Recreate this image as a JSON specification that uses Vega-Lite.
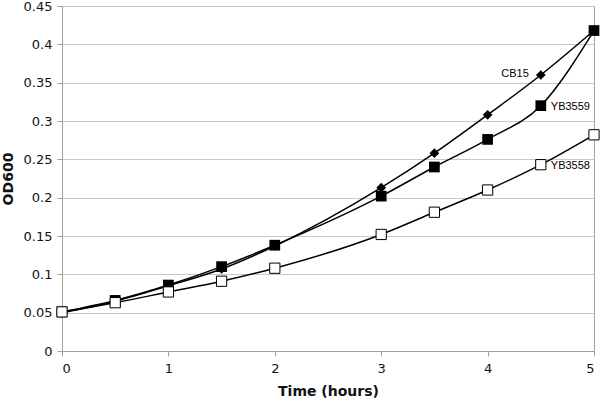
{
  "$schema": "https://vega.github.io/schema/vega-lite/v6.json",
  "width": 532,
  "height": 345,
  "autosize": "none",
  "padding": {"left": 62, "top": 6, "right": 6, "bottom": 50},
  "background": "white",
  "config": {
    "view": {"stroke": "#a0a0a0", "strokeWidth": 1},
    "axis": {"labelFont": "DejaVu Sans", "titleFont": "DejaVu Sans", "labelColor": "#111", "titleColor": "#111", "labelFontSize": 13, "titleFontSize": 14, "titleFontWeight": "bold", "domainColor": "#a0a0a0", "tickColor": "#a0a0a0", "gridColor": "#c8c8c8", "tickSize": 5}
  },
  "datasets": {
    "growth": [
      {"series": "CB15", "time": 0, "od": 0.050},
      {"series": "CB15", "time": 0.5, "od": 0.065},
      {"series": "CB15", "time": 1, "od": 0.085},
      {"series": "CB15", "time": 1.5, "od": 0.107},
      {"series": "CB15", "time": 2, "od": 0.137},
      {"series": "CB15", "time": 3, "od": 0.213},
      {"series": "CB15", "time": 3.5, "od": 0.258},
      {"series": "CB15", "time": 4, "od": 0.308},
      {"series": "CB15", "time": 4.5, "od": 0.360},
      {"series": "CB15", "time": 5, "od": 0.418},
      {"series": "YB3559", "time": 0, "od": 0.051},
      {"series": "YB3559", "time": 0.5, "od": 0.066},
      {"series": "YB3559", "time": 1, "od": 0.086},
      {"series": "YB3559", "time": 1.5, "od": 0.110},
      {"series": "YB3559", "time": 2, "od": 0.138},
      {"series": "YB3559", "time": 3, "od": 0.202},
      {"series": "YB3559", "time": 3.5, "od": 0.240},
      {"series": "YB3559", "time": 4, "od": 0.276},
      {"series": "YB3559", "time": 4.5, "od": 0.320},
      {"series": "YB3559", "time": 5, "od": 0.418},
      {"series": "YB3558", "time": 0, "od": 0.051},
      {"series": "YB3558", "time": 0.5, "od": 0.063},
      {"series": "YB3558", "time": 1, "od": 0.077},
      {"series": "YB3558", "time": 1.5, "od": 0.091},
      {"series": "YB3558", "time": 2, "od": 0.108},
      {"series": "YB3558", "time": 3, "od": 0.152},
      {"series": "YB3558", "time": 3.5, "od": 0.181},
      {"series": "YB3558", "time": 4, "od": 0.210},
      {"series": "YB3558", "time": 4.5, "od": 0.243},
      {"series": "YB3558", "time": 5, "od": 0.282}
    ]
  },
  "data": {"name": "growth"},
  "encoding": {
    "x": {"field": "time", "type": "quantitative", "title": "Time (hours)", "scale": {"domain": [0, 5], "nice": false}, "axis": {"values": [0, 1, 2, 3, 4, 5], "grid": false, "labelPadding": 6, "titlePadding": 9}},
    "y": {"field": "od", "type": "quantitative", "title": "OD600", "scale": {"domain": [0, 0.45], "nice": false}, "axis": {"values": [0, 0.05, 0.1, 0.15, 0.2, 0.25, 0.3, 0.35, 0.4, 0.45], "format": ".2~f", "grid": true, "labelPadding": 5, "titlePadding": 8}}
  },
  "layer": [
    {"mark": {"type": "line", "interpolate": "monotone", "color": "black", "strokeWidth": 1.5}, "encoding": {"detail": {"field": "series"}}},
    {"transform": [{"filter": "datum.series === 'CB15'"}], "mark": {"type": "point", "shape": "diamond", "filled": true, "color": "black", "size": 95, "opacity": 1}},
    {"transform": [{"filter": "datum.series === 'YB3559'"}], "mark": {"type": "square", "filled": true, "color": "black", "size": 115, "opacity": 1}},
    {"transform": [{"filter": "datum.series === 'YB3558'"}], "mark": {"type": "square", "filled": true, "fill": "white", "stroke": "black", "strokeWidth": 1, "size": 105, "opacity": 1}},
    {"transform": [{"filter": "datum.series === 'CB15' && datum.time === 4.5"}], "mark": {"type": "text", "align": "right", "dx": -12, "dy": -1, "font": "Liberation Sans", "fontSize": 11, "color": "black"}, "encoding": {"text": {"field": "series"}}},
    {"transform": [{"filter": "datum.series !== 'CB15' && datum.time === 4.5"}], "mark": {"type": "text", "align": "left", "dx": 10, "dy": 1, "font": "Liberation Sans", "fontSize": 11, "color": "black"}, "encoding": {"text": {"field": "series"}}}
  ]
}
